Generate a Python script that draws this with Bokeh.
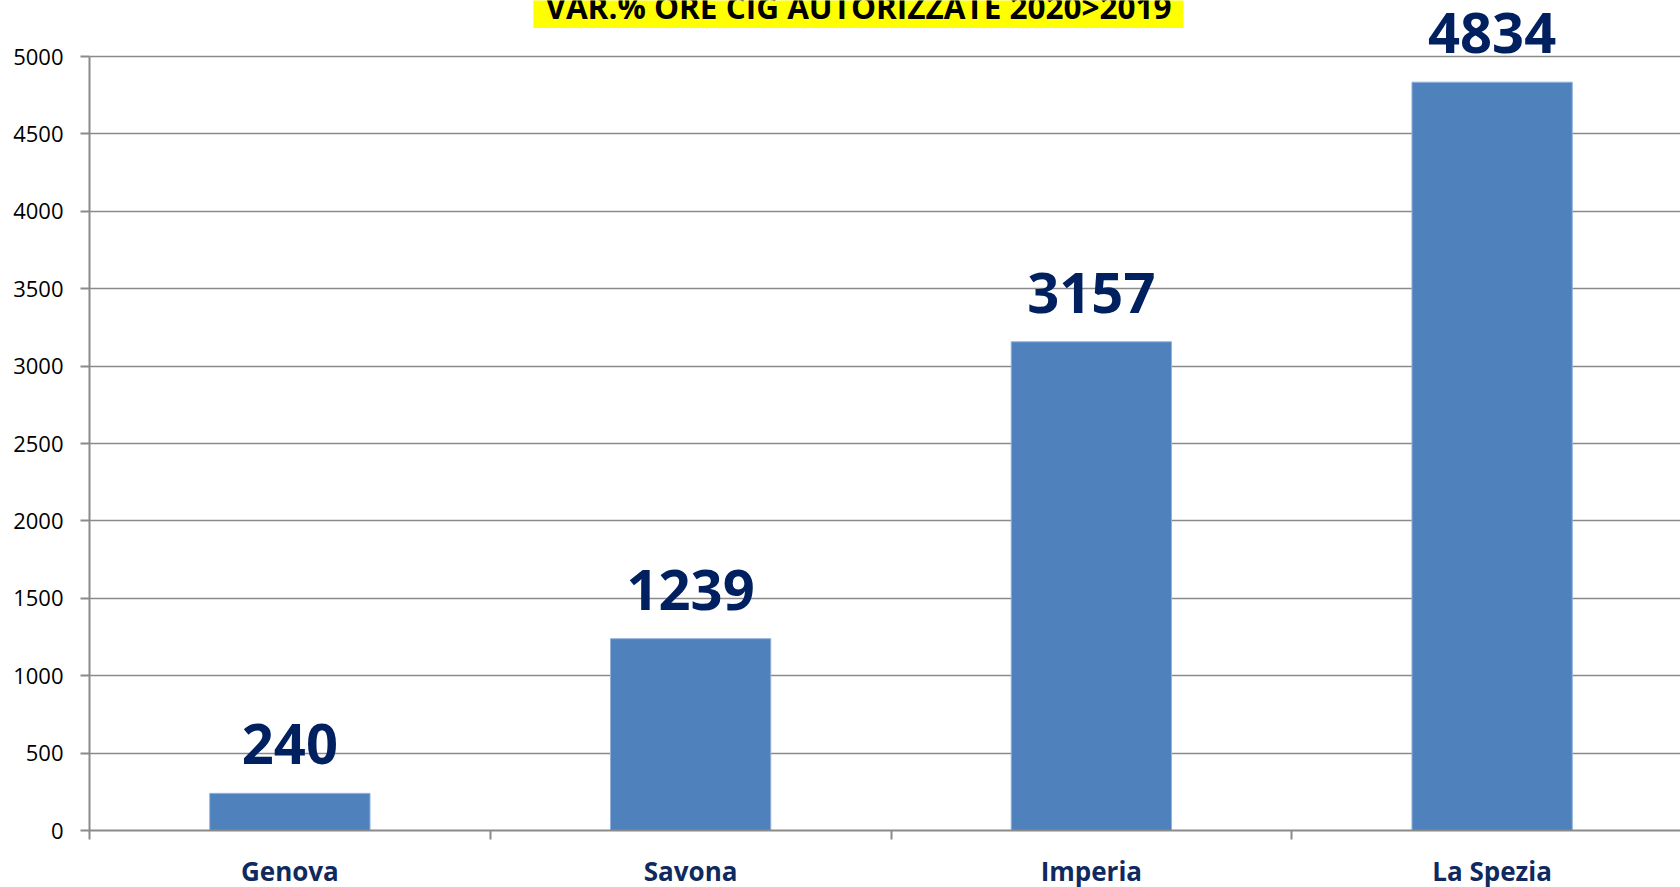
from bokeh.plotting import figure
from bokeh.models import ColumnDataSource, Range1d, FixedTicker, LabelSet, Label
from bokeh.core.properties import value
from bokeh.embed import file_html
from bokeh.resources import INLINE

categories = ["Genova", "Savona", "Imperia", "La Spezia"]
values = [240, 1239, 3157, 4834]
y_ticks = [0, 500, 1000, 1500, 2000, 2500, 3000, 3500, 4000, 4500, 5000]
title_text = "VAR.% ORE CIG AUTORIZZATE 2020>2019"

centers = [i + 0.5 for i in range(len(categories))]
source = ColumnDataSource(dict(x=centers, top=values, label=[str(v) for v in values]))

FRAME_W, FRAME_H = 1591, 830
TOP_GAP = 56  # pixels between frame top and the 5000 gridline
y_end = 5000 * FRAME_H / (FRAME_H - TOP_GAP)
x_end = 4 * FRAME_W / 1603

p = figure(frame_width=FRAME_W, frame_height=FRAME_H, output_backend="svg", toolbar_location=None,
           x_range=Range1d(0, x_end), y_range=Range1d(0, y_end),
           min_border_left=89, min_border_right=0, min_border_top=0, min_border_bottom=57)
p.outline_line_color = None
p.background_fill_color = "white"
p.border_fill_color = "white"

p.vbar(x="x", top="top", width=0.4, bottom=0, source=source,
       fill_color="#4F81BD", line_color="#93b1da", line_width=1)

# y axis
p.yaxis.ticker = FixedTicker(ticks=y_ticks)
p.yaxis.bounds = (0, 5000)
p.yaxis.axis_line_color = "#8a8a8a"
p.yaxis.axis_line_width = 2
p.yaxis.major_tick_line_color = "#8a8a8a"
p.yaxis.major_tick_line_width = 2
p.yaxis.major_tick_out = 9
p.yaxis.major_tick_in = 0
p.yaxis.minor_tick_line_color = None
p.yaxis.major_label_text_font = "Open Sans"
p.yaxis.major_label_text_font_size = "22px"
p.yaxis.major_label_text_color = "black"
p.yaxis.major_label_standoff = 17

# x axis
p.xaxis.ticker = FixedTicker(ticks=centers, minor_ticks=[0, 1, 2, 3, 4])
p.xaxis.major_label_overrides = {c: n for c, n in zip(centers, categories)}
p.xaxis.axis_line_color = "#8a8a8a"
p.xaxis.axis_line_width = 2
p.xaxis.major_tick_line_color = None
p.xaxis.major_tick_out = 0
p.xaxis.major_tick_in = 0
p.xaxis.minor_tick_line_color = "#8a8a8a"
p.xaxis.minor_tick_line_width = 2
p.xaxis.minor_tick_out = 9
p.xaxis.minor_tick_in = 0
p.xaxis.major_label_text_font = "Open Sans"
p.xaxis.major_label_text_font_style = "bold"
p.xaxis.major_label_text_font_size = "26px"
p.xaxis.major_label_text_color = "#0F2A5E"
p.xaxis.major_label_standoff = 13

p.xgrid.grid_line_color = None
p.ygrid.ticker = FixedTicker(ticks=y_ticks)
p.ygrid.grid_line_color = "#8a8a8a"
p.ygrid.grid_line_width = 1.5

labels = LabelSet(x="x", y="top", text="label", source=source,
                  text_align="center", text_baseline="alphabetic", y_offset=29,
                  text_font=value("Open Sans"), text_font_style="bold",
                  text_font_size="56px", text_color="#002060")
p.add_layout(labels)

title = Label(x=769, y=FRAME_H - 6, x_units="screen", y_units="screen", text=title_text,
              text_align="center", text_baseline="alphabetic",
              text_font="Open Sans", text_font_style="bold", text_font_size="31.5px",
              text_color="black", background_fill_color="#FFFF00",
              padding=(12, 0))
p.add_layout(title)

open("out.html", "w").write(file_html(p, INLINE))
